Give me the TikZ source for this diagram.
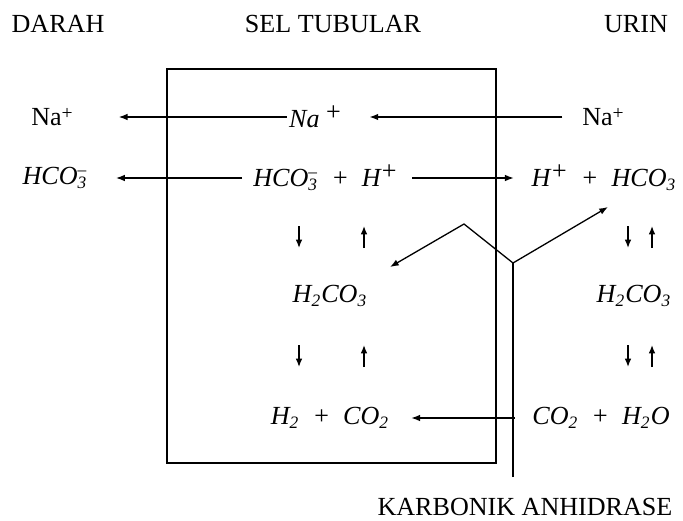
\documentclass[tikz,border=0pt]{standalone}
\usepackage{fontspec}
\setmainfont{Liberation Serif}
\usetikzlibrary{arrows.meta,positioning,calc}
\newcommand{\ionp}{\raisebox{.55ex}{\small +}}
\newcommand{\bigp}{\raisebox{.6ex}{+}}
\newcommand{\hcom}{HCO\rlap{\textsubscript{3}}\textsuperscript{--}}

\begin{document}
\begin{tikzpicture}[
    x=0.46pt, y=-0.46pt,
    font=\fontsize{12}{14}\selectfont,
    title/.style={inner sep=1pt},
    ion/.style={inner sep=1pt},
    arrow/.style={
      -{Latex[length=4pt,width=3pt]},
      line width=0.5pt
    },
    sarrow/.style={
      -{Latex[length=3.8pt,width=3pt]},
      line width=0.6pt
    },
    enzline/.style={line width=0.6pt},
    cell/.style={line width=0.9pt}
  ]
  \useasboundingbox (0,0) rectangle (683,520);

  % Column headings
  \node[title] (darah) at (58,24)  {DARAH};
  \node[title] (sel)   at (333,24) {SEL TUBULAR};
  \node[title] (urin)  at (636,24) {URIN};

  % Tubular cell
  \draw[cell] (167,69) rectangle (496,463);

  % Sodium row
  \node[ion] (naL) at (52,117)  {Na\ionp};
  \node[ion] (naC) at (315,117) {\textit{Na}\ \bigp};
  \node[ion] (naR) at (603,117) {Na\ionp};
  \draw[arrow, shorten >=20pt] (naC) -- (naL);
  \draw[arrow, shorten <=8pt, shorten >=12pt] (naR) -- (naC);

  % Bicarbonate row
  \node[ion] (hcoL) at (55,178)  {\textit{\hcom}};
  \node[ion] (hcoC) at (325,178) {\textit{\hcom\enspace+\enspace H}\bigp};
  \node[ion] (hR)   at (604,178) {\textit{H\bigp\enspace+\enspace HCO\textsubscript{3}}};
  \draw[arrow, shorten <=4pt, shorten >=12pt] (hcoC) -- (hcoL);
  \draw[arrow, shorten <=6pt, shorten >=7pt] (hcoC) -- (hR);

  % Carbonic acid
  \node[ion] (acC) at (330,296) {\textit{H\textsubscript{2}CO\textsubscript{3}}};
  \node[ion] (acR) at (634,296) {\textit{H\textsubscript{2}CO\textsubscript{3}}};

  % Water and carbon dioxide
  \node[ion] (gasC) at (330,418) {\textit{H\textsubscript{2}\enspace+\enspace CO\textsubscript{2}}};
  \node[ion] (gasR) at (601,418) {\textit{CO\textsubscript{2}\enspace+\enspace H\textsubscript{2}O}};
  \draw[arrow, shorten <=7pt, shorten >=9pt] (gasR) -- (gasC);

  % Equilibrium arrows
  \foreach \dx/\ux in {299/364, 628/652}
    \foreach \y in {226,345} {
      \draw[sarrow] (\dx,\y) -- (\dx,\y+22);
      \draw[sarrow] (\ux,\y+22) -- (\ux,\y);
    }

  % Enzyme
  \node[title] (enz) at (525,507) {KARBONIK ANHIDRASE};
  \coordinate (kbot) at (513,477);
  \coordinate (kj)   at (513,263);
  \coordinate (kpk)  at (464,224);
  \coordinate (kl)   at (390,267);
  \coordinate (kr)   at (608,207);
  \draw[enzline] (kbot) -- (kj);
  \draw[enzline, -{Latex[length=4pt,width=3pt]}] (kj) -- (kr);
  \draw[enzline, -{Latex[length=4pt,width=3pt]}] (kj) -- (kpk) -- (kl);

\end{tikzpicture}
\end{document}
